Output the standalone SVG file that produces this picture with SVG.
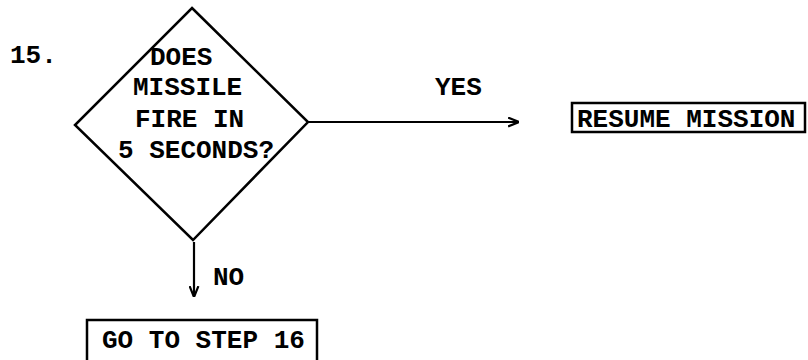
<svg xmlns="http://www.w3.org/2000/svg" width="808" height="360" viewBox="0 0 808 360">
<defs>
<style>
.t{font-family:"Liberation Mono","Courier New",monospace;font-size:26px;font-weight:bold;fill:#000}
.s{fill:none;stroke:#000;stroke-width:2.5}
.c{fill:none;stroke:#000;stroke-width:2.2}
</style>
<marker id="ah" viewBox="0 0 10 10" refX="9" refY="5" markerWidth="5" markerHeight="5" orient="auto" markerUnits="strokeWidth">
<path d="M0,1 L10,5 L0,9" fill="none" stroke="#000" stroke-width="2"/>
</marker>
</defs>
<rect width="808" height="360" fill="#fff"/>
<text class="t" x="10" y="63">15.</text>
<g id="decision">
<polygon class="s" points="192,8 308,122 193,240 75,125"/>
<text class="t" x="150" y="65">DOES</text>
<text class="t" x="133" y="95">MISSILE</text>
<text class="t" x="135" y="127">FIRE IN</text>
<text class="t" x="118" y="158">5 SECONDS?</text>
</g>
<g id="resume">
<rect class="s" x="572" y="103" width="233" height="29"/>
<text class="t" x="577" y="127">RESUME MISSION</text>
</g>
<g id="step16">
<rect class="s" x="87" y="320" width="230" height="45"/>
<text class="t" x="102" y="348">GO TO STEP 16</text>
</g>
<g id="connectors">
<line class="c" x1="308" y1="122" x2="518" y2="122" marker-end="url(#ah)"/>
<text class="t" x="435" y="95">YES</text>
<line class="c" x1="194" y1="242" x2="194" y2="296" marker-end="url(#ah)"/>
<text class="t" x="213" y="285">NO</text>
</g>
</svg>
